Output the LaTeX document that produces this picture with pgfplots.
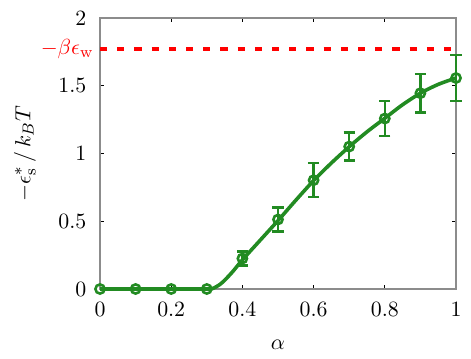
\documentclass[border=0pt]{standalone}
\usepackage{pgfplots}
\pgfplotsset{compat=1.18}
\definecolor{fgreen}{RGB}{34,139,34}
\begin{document}
\begin{tikzpicture}
\begin{axis}[
  name=ax,
  scale only axis,
  width=178bp, height=135.5bp,
  xmin=0, xmax=1, ymin=0, ymax=2,
  xtick={0,0.2,0.4,0.6,0.8,1},
  ytick={0,0.5,1,1.5,2},
  minor tick num=0,
  tick align=inside,
  major tick length=2bp,
  tick style={black, line width=0.4bp},
  axis line style={black!45, line width=0.6bp},
  clip=false,
  every tick label/.append style={font=\fontsize{11}{13}\selectfont},
  label style={font=\fontsize{11}{13}\selectfont},
  xticklabel style={yshift=-3bp},
  yticklabel style={xshift=-3.3bp},
  extra y ticks={1.771},
  extra y tick labels={$-\beta\epsilon_{\mathrm{w}}$},
  extra y tick style={major tick length=0pt, yticklabel style={text=red, xshift=3.6bp}},
  xlabel={$\alpha$},
  ylabel={$-\epsilon_{\mathrm{s}}^{*}\,/\,k_BT$},
  xlabel style={at={(axis description cs:0.5,-0.207)}, anchor=center},
  ylabel style={at={(axis description cs:-0.211,0.5)}, anchor=center},
]
% reference level
\addplot[red, line width=2bp, dash pattern=on 3.6bp off 5bp, forget plot] coordinates {(0,1.771) (1,1.771)};
% fitted curve
\addplot[fgreen, line width=1.8bp, smooth, tension=0.5] coordinates {
 (0,0) (0.1,0) (0.2,0) (0.3,0) (0.315,0.002) (0.34,0.04) (0.37,0.12) (0.4,0.215)
 (0.45,0.36) (0.5,0.505) (0.55,0.655) (0.6,0.80) (0.65,0.93) (0.7,1.05) (0.75,1.16)
 (0.8,1.26) (0.85,1.36) (0.9,1.445) (0.95,1.51) (1.0,1.557)};
% points without error bars
\addplot[fgreen, only marks, mark=o, mark size=2.3bp, mark options={line width=1.3bp}] coordinates {
 (0,0) (0.1,0) (0.2,0) (0.3,0)};
% points with error bars
\addplot[fgreen, only marks, mark=o, mark size=2.3bp, mark options={line width=1.3bp},
  error bars/.cd, y dir=both, y explicit,
  error bar style={line width=1.2bp},
  error mark options={rotate=90, mark size=2.8bp, line width=1.2bp}]
 table[x=x, y=y, y error=e] {
 x y e
 0.4 0.225 0.053
 0.5 0.513 0.089
 0.6 0.803 0.126
 0.7 1.051 0.104
 0.8 1.258 0.130
 0.9 1.445 0.143
 1.0 1.557 0.170
};
\end{axis}
\pgfresetboundingbox
\path[use as bounding box] ([xshift=-50bp,yshift=-35bp]ax.south west) rectangle ([xshift=7.5bp,yshift=9bp]ax.north east);
\end{tikzpicture}
\end{document}
